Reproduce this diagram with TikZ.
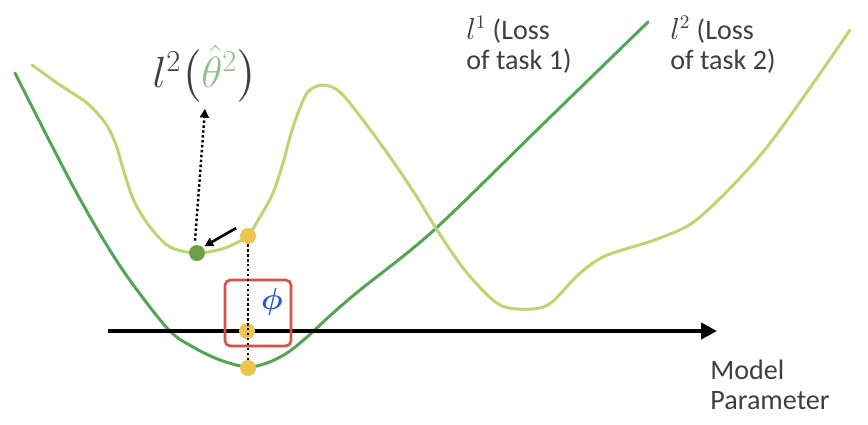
\documentclass[tikz,border=0pt]{standalone}
\usepackage{amsmath}
\usepackage{xcolor}
\usepackage{fontspec}
\setmainfont{Carlito}
\usepackage{tikz}
\usetikzlibrary{positioning,arrows.meta,calc}
\definecolor{lossDark}{HTML}{52A556}
\definecolor{lossLight}{HTML}{BAD671}
\definecolor{thetaGreen}{HTML}{8FBE86}
\definecolor{dotYellow}{HTML}{EDC452}
\definecolor{dotGreen}{HTML}{6E9F48}
\definecolor{boxRed}{HTML}{D8504A}
\definecolor{phiBlue}{HTML}{2556D8}
\definecolor{ink}{HTML}{3F3F3F}

\begin{document}
\begin{tikzpicture}[
  x=0.02cm, y=-0.02cm,
  every node/.style={font=\fontsize{16}{17}\selectfont, text=ink},
  lossA/.style   ={line width=1.7pt, lossDark, line cap=round},
  lossB/.style   ={line width=1.7pt, lossLight, line cap=round},
  axisline/.style={-{Triangle[length=9pt,width=9pt]}, line width=2.3pt, black},
  dotY/.style    ={circle, fill=dotYellow, draw=none, minimum size=0.32cm, inner sep=0pt},
  dotG/.style    ={circle, fill=dotGreen,  draw=none, minimum size=0.32cm, inner sep=0pt},
  guide/.style   ={line width=1.4pt, black, dash pattern=on 1.4pt off 1.4pt},
  guidearr/.style={guide, -{Triangle[length=5pt,width=5pt]}},
  steparr/.style ={-{Triangle[length=5pt,width=5pt]}, line width=1.5pt, black, shorten >=1pt},
  framebox/.style={draw=boxRed, line width=1.5pt, rounded corners=3pt, minimum width=1.32cm, minimum height=1.32cm},
  lbl/.style     ={anchor=north west, align=left, inner sep=0pt},
]
\useasboundingbox (0,0) rectangle (868,424);

\def\yAxis{331}

% ── Loss of task 1 (dark) ──
\draw[lossA] plot[smooth, tension=0.5] coordinates {
  (15,73) (75,190) (120,266) (167,328) (193,347) (220,360)
  (247,367) (267,363) (287,353) (307,337) (333,313) (360,290)
  (433,231) (540,127) (648,22)};

% ── Loss of task 2 (light) ──
\draw[lossB] plot[smooth, tension=0.5] coordinates {
  (32,65) (60,85) (87,103) (106,124) (116,145) (124,172) (134,201)
  (150,227) (170,247) (197,253) (225,248) (247,236) (260,217) (273,193)
  (283,163) (293,127) (307,93) (323,85) (340,92) (363,120) (390,157)
  (417,197) (437,230) (467,273) (500,305) (533,309) (552,302)
  (578,275) (605,256) (660,238) (700,217) (767,147) (850,30)};

% ── Parameter axis ──
\coordinate (axL) at (108,\yAxis);
\coordinate (axR) at (717,\yAxis);
\draw[axisline] (axL) -- (axR);

% ── Meta-parameter box ──
\node[framebox] (phibox) at (258,313) {};
\node[text=phiBlue, font=\fontsize{17}{17}\selectfont] (phi) at (272,302) {$\boldsymbol{\phi}$};

% ── Points ──
\node[dotY] (pTop) at (248,236) {};
\node[dotY] (pMid) at (247,\yAxis) {};
\node[dotY] (pBot) at (248,368) {};
\node[dotG] (pAda) at (197,253) {};

% ── Labels ──
\node[font=\fontsize{24}{24}\selectfont, text=ink] (lossval) at (205,74)
  {$l^2\bigl(\textcolor{thetaGreen}{\hat{\theta}^{2}}\bigr)$};
\node[lbl] (taskA) at (466,16) {$l^1$ (Loss\\of task 1)};
\node[lbl] (taskB) at (670,16) {$l^2$ (Loss\\of task 2)};
\node[lbl] (param) at (710,360) {Model\\Parameter};

% ── Connectors ──
\draw[guide] (pTop) -- (pBot);
\draw[guidearr] ($(pAda.north)+(-2,-4)$) -- (lossval.south);
\draw[steparr] ($(pTop.north west)+(-6,-2)$) -- (pAda.north east);

\end{tikzpicture}
\end{document}
